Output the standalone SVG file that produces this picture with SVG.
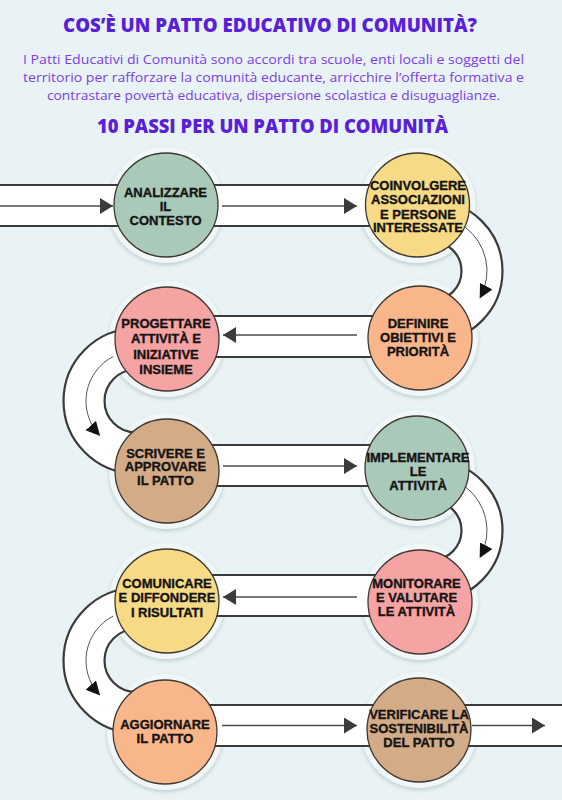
<svg xmlns="http://www.w3.org/2000/svg" width="562" height="800" viewBox="0 0 562 800">
<defs>
<style>
.title{font-family:"Open Sans","Liberation Sans",sans-serif;font-weight:800;fill:#5a1fd8;text-anchor:middle}
.para{font-family:"Open Sans","Liberation Sans",sans-serif;font-weight:400;font-size:13.5px;fill:#7a3fe6;text-anchor:middle}
.lbl{font-family:"Liberation Sans",Arial,sans-serif;font-weight:700;font-size:13px;fill:#141414;stroke:#141414;stroke-width:0.35;text-anchor:middle}
.halo{fill:#f1f6f7;filter:url(#sh)}
.disc{stroke:#3d3833;stroke-width:1.3}
.edge{fill:none;stroke:#3b3b3b;stroke-width:43.2}
.lane{fill:none;stroke:#ffffff;stroke-width:38.8}
.mid{fill:none;stroke:#4a4a4a;stroke-width:1.4}
.thin{fill:none;stroke:#555;stroke-width:1}
.sage{fill:#a9c9b9}.yel{fill:#f6da86}.pea{fill:#f9b68b}.pink{fill:#f6a3a3}.tan{fill:#d3ab87}
</style>
<filter id="sh" x="-20%" y="-20%" width="140%" height="150%">
<feDropShadow dx="0" dy="2" stdDeviation="2.2" flood-color="#86a0a6" flood-opacity="0.45"/>
</filter>
<marker id="tri" markerUnits="userSpaceOnUse" markerWidth="14" markerHeight="18" refX="13" refY="8" orient="auto">
<path d="M0,0 L13,8 L0,16 z" fill="#3b3b3b"/>
</marker>
<marker id="blk" markerUnits="userSpaceOnUse" markerWidth="15" markerHeight="15" refX="12" refY="7" orient="auto">
<path d="M0,0 L14,7 L0,14 z" fill="#111"/>
</marker>
</defs>
<rect width="562" height="800" fill="#e9f3f5"/>
<g id="header">
<text class="title" x="270" y="31.5" font-size="18.5" textLength="414" lengthAdjust="spacingAndGlyphs">COS’È UN PATTO EDUCATIVO DI COMUNITÀ?</text>
<text class="para" x="273.5" y="63.5" textLength="501" lengthAdjust="spacingAndGlyphs">I Patti Educativi di Comunità sono accordi tra scuole, enti locali e soggetti del</text>
<text class="para" x="273.5" y="81.5" textLength="501" lengthAdjust="spacingAndGlyphs">territorio per rafforzare la comunità educante, arricchire l’offerta formativa e</text>
<text class="para" x="273.5" y="99.5" textLength="453" lengthAdjust="spacingAndGlyphs">contrastare povertà educativa, dispersione scolastica e disuguaglianze.</text>
<text class="title" x="272.5" y="132.5" font-size="18.5" textLength="351" lengthAdjust="spacingAndGlyphs">10 PASSI PER UN PATTO DI COMUNITÀ</text>
</g>
<g id="halos">
<circle class="halo" cx="166" cy="205" r="58"/>
<circle class="halo" cx="417.5" cy="205" r="58"/>
<circle class="halo" cx="420" cy="338" r="58"/>
<circle class="halo" cx="167" cy="339" r="58"/>
<circle class="halo" cx="167" cy="471" r="58"/>
<circle class="halo" cx="417" cy="468" r="58"/>
<circle class="halo" cx="420" cy="602" r="58"/>
<circle class="halo" cx="167" cy="601" r="58"/>
<circle class="halo" cx="165" cy="732" r="58"/>
<circle class="halo" cx="419" cy="730" r="58"/>
</g>
<g id="connectors">
<path class="edge" d="M-5,205.5 H417 M167,336.5 H420 M167,465.5 H417 M167,595.5 H420 M165,725.5 H567"/>
<path class="edge" d="M432,221 A50,50 0 0 1 432,321 M136,349 A52,52 0 0 0 136,453 M432,480.5 A50,50 0 0 1 432,580.5 M136,608.5 A52,52 0 0 0 136,712.5"/>
<path class="lane" d="M-5,205.5 H417 M167,336.5 H420 M167,465.5 H417 M167,595.5 H420 M165,725.5 H567"/>
<path class="lane" d="M432,221 A50,50 0 0 1 432,321 M136,349 A52,52 0 0 0 136,453 M432,480.5 A50,50 0 0 1 432,580.5 M136,608.5 A52,52 0 0 0 136,712.5"/>
<path class="mid" d="M-5,206 H113" marker-end="url(#tri)"/>
<path class="mid" d="M222,206 H357" marker-end="url(#tri)"/>
<path class="mid" d="M357,335 H223" marker-end="url(#tri)"/>
<path class="mid" d="M223,466 H357" marker-end="url(#tri)"/>
<path class="mid" d="M357,597 H223" marker-end="url(#tri)"/>
<path class="mid" d="M222,725.5 H357" marker-end="url(#tri)"/>
<path class="mid" d="M472,725.5 H545" marker-end="url(#tri)"/>
<path class="thin" d="M465.1,227.1 A55,55 0 0 1 480.6,296.8" marker-end="url(#blk)"/>
<path class="thin" d="M113.3,356.5 A50,50 0 0 0 98.8,434.5" marker-end="url(#blk)"/>
<path class="thin" d="M465.1,486.6 A55,55 0 0 1 480.6,556.3" marker-end="url(#blk)"/>
<path class="thin" d="M113.3,616 A50,50 0 0 0 98.8,694" marker-end="url(#blk)"/>
</g>
<g id="n1"><circle class="disc sage" cx="166" cy="205" r="52"/>
<text class="lbl"><tspan x="165.5" y="196.5">ANALIZZARE</tspan><tspan x="165.5" y="210.5">IL</tspan><tspan x="165.5" y="224.5">CONTESTO</tspan></text></g>
<g id="n2"><circle class="disc yel" cx="417.5" cy="205" r="52"/>
<text class="lbl"><tspan x="418" y="190">COINVOLGERE</tspan><tspan x="418" y="204.3">ASSOCIAZIONI</tspan><tspan x="418" y="218.6">E PERSONE</tspan><tspan x="418" y="232">INTERESSATE</tspan></text></g>
<g id="n3"><circle class="disc pea" cx="420" cy="338" r="52"/>
<text class="lbl"><tspan x="418" y="327.5">DEFINIRE</tspan><tspan x="418" y="341.5">OBIETTIVI E</tspan><tspan x="418" y="356">PRIORITÀ</tspan></text></g>
<g id="n4"><circle class="disc pink" cx="167" cy="339" r="52"/>
<text class="lbl"><tspan x="166" y="327.5">PROGETTARE</tspan><tspan x="166" y="343">ATTIVITÀ E</tspan><tspan x="166" y="358.5">INIZIATIVE</tspan><tspan x="166" y="374">INSIEME</tspan></text></g>
<g id="n5"><circle class="disc tan" cx="167" cy="471" r="52"/>
<text class="lbl"><tspan x="165.5" y="457.5">SCRIVERE E</tspan><tspan x="165.5" y="471">APPROVARE</tspan><tspan x="165.5" y="485">IL PATTO</tspan></text></g>
<g id="n6"><circle class="disc sage" cx="417" cy="468" r="52"/>
<text class="lbl"><tspan x="418" y="461.5">IMPLEMENTARE</tspan><tspan x="418" y="476">LE</tspan><tspan x="418" y="490">ATTIVITÀ</tspan></text></g>
<g id="n7"><circle class="disc pink" cx="420" cy="602" r="52"/>
<text class="lbl"><tspan x="416.5" y="587.5">MONITORARE</tspan><tspan x="416.5" y="601.5">E VALUTARE</tspan><tspan x="416.5" y="615.5">LE ATTIVITÀ</tspan></text></g>
<g id="n8"><circle class="disc yel" cx="167" cy="601" r="52"/>
<text class="lbl"><tspan x="167" y="587.5">COMUNICARE</tspan><tspan x="167" y="602">E DIFFONDERE</tspan><tspan x="167" y="616.5">I RISULTATI</tspan></text></g>
<g id="n9"><circle class="disc pea" cx="165" cy="732" r="52"/>
<text class="lbl"><tspan x="165" y="728.5">AGGIORNARE</tspan><tspan x="165" y="742.5">IL PATTO</tspan></text></g>
<g id="n10"><circle class="disc tan" cx="419" cy="730" r="52"/>
<text class="lbl"><tspan x="419" y="718.5">VERIFICARE LA</tspan><tspan x="419" y="732.5">SOSTENIBILITÀ</tspan><tspan x="419" y="746.5">DEL PATTO</tspan></text></g>
</svg>
